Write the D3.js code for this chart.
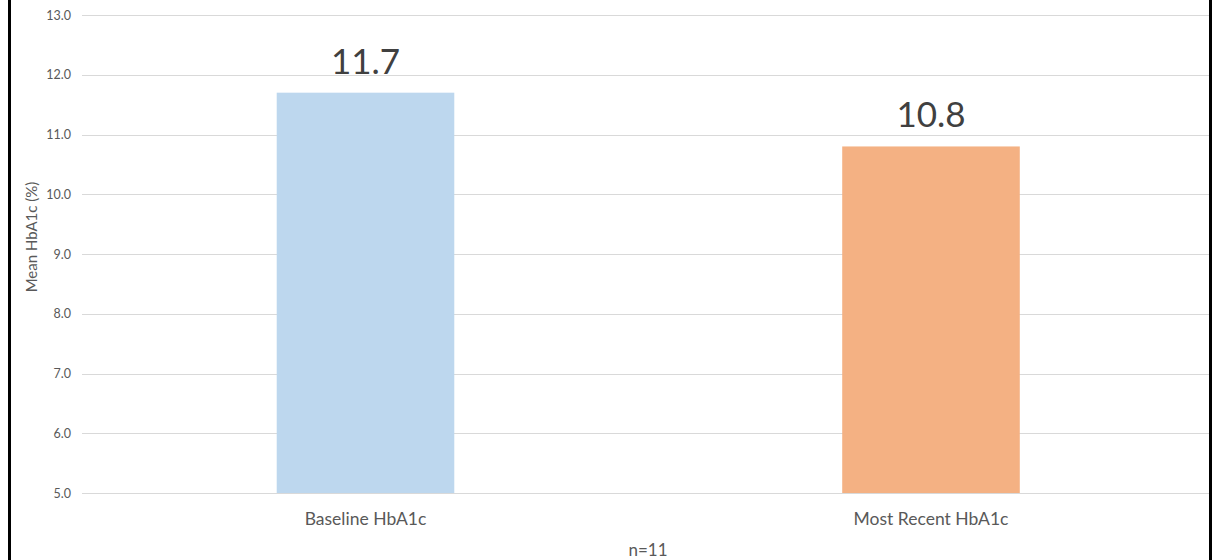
<!DOCTYPE html>
<html>
<head>
<meta charset="utf-8">
<script src="https://cdn.jsdelivr.net/npm/d3@7"></script>
<style>
  html, body { margin: 0; padding: 0; background: #fff; }
  svg { display: block; font-family: Lato, "Open Sans", sans-serif; }
</style>
</head>
<body>
<svg id="chart" width="1223" height="560"></svg>
<script>
// Mean HbA1c before and at the latest visit
const categories = ["Baseline HbA1c", "Most Recent HbA1c"];
const values = [11.7, 10.8];
const barColors = ["#BDD7EE", "#F4B183"];
const yTicks = [5, 6, 7, 8, 9, 10, 11, 12, 13];
const yTitle = "Mean HbA1c (%)";
const xTitle = "n=11";

const svg = d3.select("#chart");
const W = 1223, H = 560;

const x = d3.scaleBand()
  .domain(categories)
  .range([82.75, 1213.75])
  .paddingInner(0.686)
  .paddingOuter(0.343);

const y = d3.scaleLinear().domain([5, 13]).range([493, 15]);

// horizontal gridlines
svg.append("g")
  .selectAll("line")
  .data(yTicks)
  .join("line")
  .attr("x1", 82)
  .attr("x2", 1210)
  .attr("y1", d => Math.round(y(d)) + 0.5)
  .attr("y2", d => Math.round(y(d)) + 0.5)
  .attr("stroke", "#d9d9d9")
  .attr("stroke-width", 1);

// y axis tick labels
const yAxis = d3.axisLeft(y).tickValues(yTicks).tickFormat(d3.format(".1f")).tickSize(0).tickPadding(0);
const gy = svg.append("g").attr("transform", "translate(71,0)").call(yAxis);
gy.select(".domain").remove();
gy.selectAll("text")
  .attr("fill", "#595959")
  .style("font-size", "12.5px")
  .style("font-family", "Lato, sans-serif");

// bars
svg.append("g")
  .selectAll("rect")
  .data(values)
  .join("rect")
  .attr("x", (d, i) => x(categories[i]))
  .attr("width", x.bandwidth())
  .attr("y", d => y(d))
  .attr("height", d => y(5) - y(d))
  .attr("fill", (d, i) => barColors[i]);

// value labels above bars
svg.append("g")
  .selectAll("text")
  .data(values)
  .join("text")
  .attr("x", (d, i) => x(categories[i]) + x.bandwidth() / 2)
  .attr("y", d => y(d) - 19)
  .attr("text-anchor", "middle")
  .attr("fill", "#404040")
  .style("font-size", "35px")
  .text(d => d3.format(".1f")(d));

// category axis labels
const xAxis = d3.axisBottom(x).tickSize(0).tickPadding(0);
const gx = svg.append("g").attr("transform", "translate(0,525)").call(xAxis);
gx.select(".domain").remove();
gx.selectAll("text")
  .attr("fill", "#595959")
  .attr("dy", "0")
  .style("font-size", "17.5px")
  .style("font-family", "Lato, sans-serif");

// axis titles
svg.append("text")
  .attr("transform", "translate(37,237) rotate(-90)")
  .attr("text-anchor", "middle")
  .attr("fill", "#595959")
  .style("font-size", "15px")
  .text(yTitle);

svg.append("text")
  .attr("x", 648)
  .attr("y", 556)
  .attr("text-anchor", "middle")
  .attr("fill", "#595959")
  .style("font-size", "17px")
  .text(xTitle);

// outer frame edges
svg.append("rect").attr("x", 8).attr("y", 0).attr("width", 3).attr("height", H).attr("fill", "#000");
svg.append("rect").attr("x", 1209).attr("y", 0).attr("width", 3).attr("height", H).attr("fill", "#000");
</script>
</body>
</html>
